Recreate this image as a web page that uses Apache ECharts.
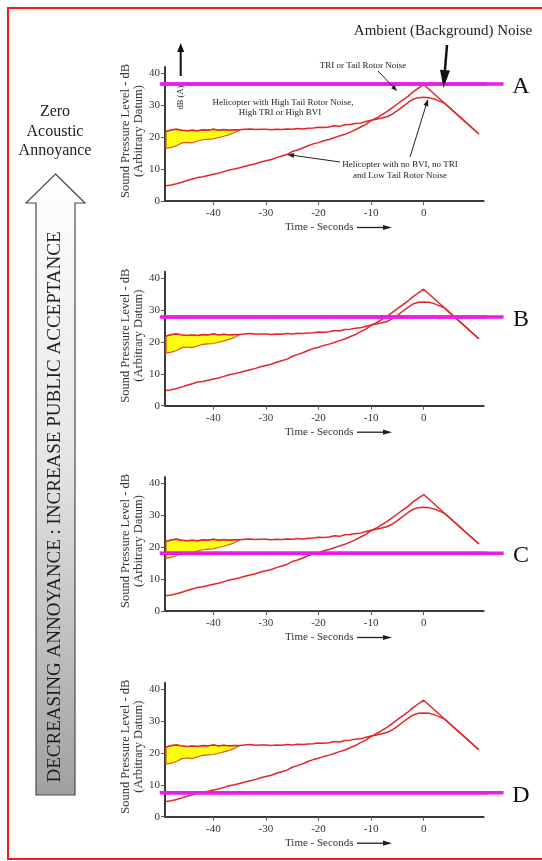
<!DOCTYPE html>
<html><head><meta charset="utf-8">
<script src="https://cdn.jsdelivr.net/npm/echarts@6/dist/echarts.min.js"></script>
<style>html,body{margin:0;padding:0;background:#fff}#c{width:542px;height:861px}</style>
</head><body><div id="c"></div>
<script>
// ---------- data ----------
const xTicks = [-40, -30, -20, -10, 0];
const yTicks = [0, 10, 20, 30, 40];
const xRange = [-49.2, 11.4];
const yRange = [0, 42];

// Helicopter with no BVI, no TRI and low tail rotor noise (starts low)
const lowTime = [-49,-48,-47,-46,-45,-44,-43,-42,-41,-40,-39,-38,-37,-36,-35,-34,-33,-32,-31,-30,-29,-28,-27,-26,-25,-24,-23,-22,-21,-20,-19,-18,-17,-16,-15,-14,-13,-12,-11,-10,-9,-8,-7,-6,-5,-4,-3,-2,-1,0,10.5];
const lowNoise = [4.8,5.0,5.4,5.9,6.4,6.9,7.4,7.6,8.0,8.4,8.7,9.2,9.7,10.0,10.4,10.9,11.3,11.7,12.2,12.6,13.0,13.6,14.1,14.6,15.5,16.0,16.6,17.3,17.9,18.3,18.9,19.3,19.8,20.4,20.9,21.6,22.3,23.2,24.0,25.2,26.0,27.0,28.0,29.2,30.4,31.6,32.8,34.2,35.4,36.5,21.0];

// Helicopter with high tail rotor noise, high TRI or high BVI
const highTime = [-49,-48,-47,-46,-45,-44,-43,-42,-41,-40,-39,-38,-37,-36,-35,-34,-33,-32,-31,-30,-29,-28,-27,-26,-25,-24,-23,-22,-21,-20,-19,-18,-17,-16,-15,-14,-13,-12,-11,-10,-9,-8,-7,-6,-5,-4,-3,-2,-1,0,1,2,3,4,10.5];
const highNoise = [21.8,22.3,22.5,22.2,22.0,22.2,22.0,22.3,22.2,22.5,22.2,22.4,22.2,22.3,22.3,22.5,22.6,22.4,22.5,22.5,22.3,22.5,22.4,22.6,22.5,22.7,22.6,22.8,22.9,23.1,23.0,23.2,23.6,23.4,23.9,24.0,24.3,24.4,24.9,25.3,25.6,26.0,26.4,27.2,28.3,29.6,30.8,31.9,32.4,32.5,32.4,32.0,31.3,30.6,21.0];

// yellow spread band (lower edge; upper edge follows highNoise)
const bandTime  = [-49,-48,-47,-46,-45,-44,-43,-42,-41,-40,-39,-38,-37,-36,-35];
const bandLower = [16.5,16.8,17.3,18.2,18.4,18.2,18.8,19.2,19.4,19.5,19.9,20.3,20.8,21.4,22.3];
const bandUpper = bandTime.map(t => highNoise[highTime.indexOf(t)]);

// ambient (background) noise level for each panel
const panelLabels = ['A', 'B', 'C', 'D'];
const ambientLevels = [36.7, 27.8, 18.1, 7.5];
const ambientSpan = [-50.2, 15.2];

// ---------- layout ----------
const FONT = "'Liberation Serif','Times New Roman',serif";
const gridBottoms = [201, 405.7, 611, 816.7];
const GRID_LEFT = 165, GRID_W = 318.6, GRID_H = 134;
const RED = '#e3262b';
const MAGENTA = '#ea1ce8';

const chart = echarts.init(document.getElementById('c'), null, {renderer: 'canvas'});

const grids = [], xAxes = [], yAxes = [], series = [];
gridBottoms.forEach((b, i) => {
  grids.push({left: GRID_LEFT, width: GRID_W, top: b - GRID_H, height: GRID_H, containLabel: false});
  xAxes.push({
    type: 'value', gridIndex: i, min: xRange[0], max: xRange[1],
    axisLine: {onZero: false, lineStyle: {color: '#3a3a3a', width: 2}},
    axisTick: {show: true, length: 4, customValues: xTicks, lineStyle: {color: '#555', width: 1}},
    axisLabel: {customValues: xTicks, fontFamily: FONT, fontSize: 11, color: '#333', margin: 7},
    splitLine: {show: false}
  });
  yAxes.push({
    type: 'value', gridIndex: i, min: yRange[0], max: yRange[1],
    axisLine: {show: true, onZero: false, lineStyle: {color: '#3a3a3a', width: 2}},
    axisTick: {show: true, length: 4, customValues: yTicks, lineStyle: {color: '#555', width: 1}},
    axisLabel: {customValues: yTicks, fontFamily: FONT, fontSize: 11, color: '#333', margin: 5},
    splitLine: {show: false}
  });
  series.push({
    type: 'custom', xAxisIndex: i, yAxisIndex: i, z: 2, silent: true,
    data: bandTime.map((t, k) => [t, bandLower[k], bandUpper[k]]),
    encode: {x: 0, y: [1, 2]},
    renderItem: function (params, api) {
      if (params.dataIndex !== 0) return null;
      const pts = [];
      for (let k = 0; k < bandTime.length; k++) pts.push(api.coord([bandTime[k], bandUpper[k]]));
      for (let k = bandTime.length - 1; k >= 0; k--) pts.push(api.coord([bandTime[k], bandLower[k]]));
      return {type: 'polygon', shape: {points: pts}, style: {fill: '#ffff10', stroke: '#e5541f', lineWidth: 1.2}};
    }
  });
  series.push({
    type: 'line', name: 'High tail rotor noise', xAxisIndex: i, yAxisIndex: i, z: 3,
    data: highTime.map((t, k) => [t, highNoise[k]]),
    showSymbol: false, lineStyle: {color: RED, width: 1.5}
  });
  series.push({
    type: 'line', name: 'Low tail rotor noise', xAxisIndex: i, yAxisIndex: i, z: 3,
    data: lowTime.map((t, k) => [t, lowNoise[k]]),
    showSymbol: false, lineStyle: {color: RED, width: 1.5}
  });
  series.push({
    type: 'line', name: 'Ambient ' + panelLabels[i], xAxisIndex: i, yAxisIndex: i, z: 5, clip: false,
    data: ambientSpan.map(t => [t, ambientLevels[i]]),
    showSymbol: false, lineStyle: {color: MAGENTA, width: 3.5}
  });
});

chart.setOption({
  animation: false,
  backgroundColor: '#ffffff',
  grid: grids, xAxis: xAxes, yAxis: yAxes, series: series
});

// ---------- annotations ----------
function arrow(x1, y1, x2, y2, lw, hl, hw, color) {
  const dx = x2 - x1, dy = y2 - y1, len = Math.hypot(dx, dy);
  const ux = dx / len, uy = dy / len, nx = -uy, ny = ux;
  const bx = x2 - ux * hl, by = y2 - uy * hl;
  return [
    {type: 'line', z: 20, shape: {x1: x1, y1: y1, x2: bx + ux * 1, y2: by + uy * 1}, style: {stroke: color, lineWidth: lw}},
    {type: 'polygon', z: 20, shape: {points: [[x2, y2], [bx + nx * hw, by + ny * hw], [bx - nx * hw, by - ny * hw]]}, style: {fill: color}}
  ];
}
function txt(x, y, s, size, opts) {
  opts = opts || {};
  return {type: 'text', z: 20, x: x, y: y, rotation: opts.rot || 0,
    style: {text: s, x: 0, y: 0, fill: opts.color || '#222', font: (opts.weight || 'normal') + ' ' + size + 'px ' + FONT,
      align: opts.align || 'center', verticalAlign: 'middle', lineHeight: opts.lh || size * 1.15}};
}

const g = [];
// outer frame
g.push({type: 'rect', z: 1, shape: {x: 8, y: 8, width: 545, height: 851}, style: {fill: null, stroke: '#ff1a1a', lineWidth: 2}});

// left column
g.push(txt(55, 112, 'Zero', 16));
g.push(txt(55, 132, 'Acoustic', 16));
g.push(txt(55, 151, 'Annoyance', 16));
g.push({type: 'polygon', z: 10,
  shape: {points: [[55.5, 174], [85, 203], [75, 203], [75, 795], [36, 795], [36, 203], [26, 203]]},
  style: {fill: new echarts.graphic.LinearGradient(0, 0, 0, 1, [{offset: 0, color: '#ffffff'}, {offset: 0.45, color: '#e6e6e6'}, {offset: 1, color: '#a0a0a0'}]),
    stroke: '#4a4a4a', lineWidth: 1.2}});
g.push(txt(55.5, 507, 'DECREASING ANNOYANCE : INCREASE PUBLIC ACCEPTANCE', 19, {rot: Math.PI / 2, color: '#1e1e1e'}));

// per-panel ambient lines, axis titles and letters
gridBottoms.forEach((b, i) => {
  const p1 = chart.convertToPixel({gridIndex: i}, [ambientSpan[0], ambientLevels[i]]);
  const p2 = chart.convertToPixel({gridIndex: i}, [ambientSpan[1], ambientLevels[i]]);
  g.push({type: 'line', z: 15, shape: {x1: p1[0], y1: p1[1], x2: p2[0], y2: p2[1]}, style: {stroke: MAGENTA, lineWidth: 3.5}});
  const cy = b - GRID_H / 2 - 3;
  g.push(txt(126, cy, 'Sound Pressure Level - dB', 12.5, {rot: Math.PI / 2, color: '#333'}));
  g.push(txt(139, cy, '(Arbitrary Datum)', 12.5, {rot: Math.PI / 2, color: '#333'}));
  g.push(txt(285, b + 26, 'Time - Seconds', 11, {align: 'left', color: '#333'}));
  arrow(357, b + 26.5, 392, b + 26.5, 1.3, 9, 2.6, '#222').forEach(e => g.push(e));
  g.push(txt(521, p1[1] + 2.5, panelLabels[i], 24, {color: '#111'}));
});

// panel A annotations
g.push(txt(443, 31.5, 'Ambient (Background) Noise', 15));
arrow(447, 45, 443.5, 88, 2.5, 18, 5, '#111').forEach(e => g.push(e));
arrow(180.7, 76, 180.7, 43, 2, 9, 3.5, '#111').forEach(e => g.push(e));
g.push(txt(180.5, 97.5, 'dB (A)', 8.5, {rot: Math.PI / 2}));
g.push(txt(363, 65.5, 'TRI or Tail Rotor Noise', 9));
arrow(378, 71, 397, 91, 1, 6, 2.5, '#222').forEach(e => g.push(e));
g.push(txt(283, 103, 'Helicopter with High Tail Rotor Noise,', 9));
g.push(txt(280, 113, 'High TRI or High BVI', 9));
g.push(txt(400, 165, 'Helicopter with no BVI, no TRI', 9));
g.push(txt(400, 176, 'and Low Tail Rotor Noise', 9));
arrow(340, 162, 287, 154.5, 1, 7, 2.5, '#222').forEach(e => g.push(e));
arrow(410, 157, 428, 99, 1, 7, 2.5, '#222').forEach(e => g.push(e));

chart.setOption({graphic: {z: 100, elements: g}});
</script>
</body></html>
